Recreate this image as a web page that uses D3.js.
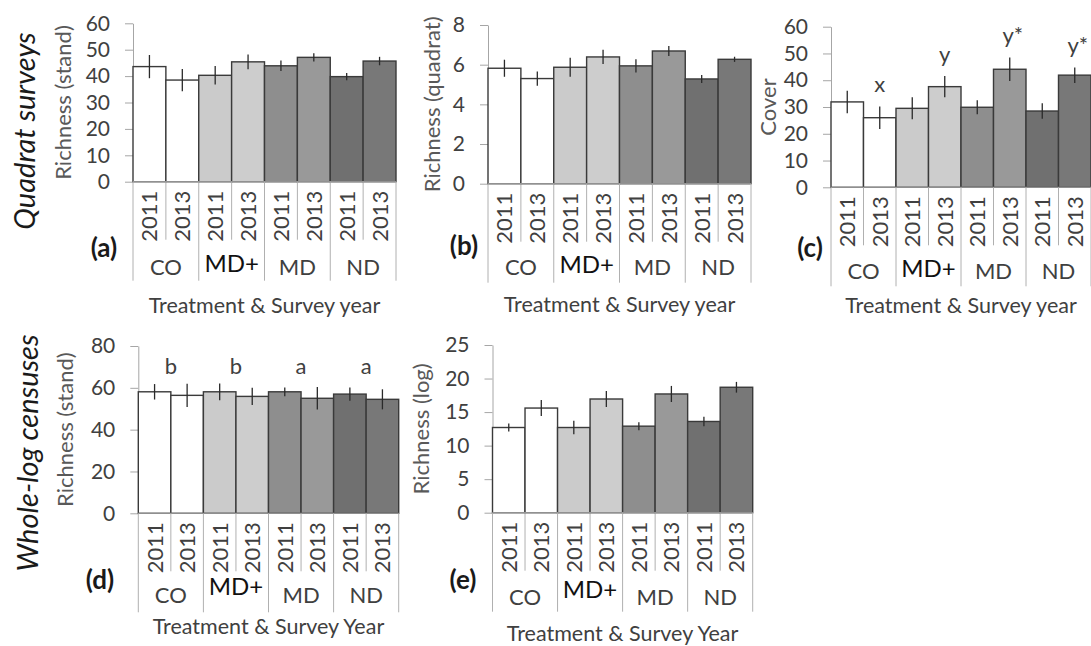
<!DOCTYPE html>
<html>
<head>
<meta charset="utf-8">
<script src="https://cdn.jsdelivr.net/npm/d3@7"></script>
<style>
  body { margin: 0; background: #fff; }
  svg { display: block; font-family: Lato, "Open Sans", sans-serif; }
</style>
</head>
<body>
<script>
const groups = ["CO", "MD+", "MD", "ND"]
const years = ["2011", "2013"]
const bars = groups.flatMap(g => years.map(y => g + "_" + y))

// quadrat surveys
const richStandQ = [43.6, 38.5, 40.3, 45.4, 43.9, 47.1, 39.8, 45.7]
const richStandQErr = [4.4, 4.2, 3.5, 2.8, 2.0, 1.6, 1.4, 1.6]
const richQuadrat = [5.82, 5.30, 5.87, 6.39, 5.94, 6.69, 5.28, 6.27]
const richQuadratErr = [0.43, 0.36, 0.48, 0.36, 0.33, 0.25, 0.20, 0.13]
const cover = [31.9, 26.0, 29.5, 37.6, 29.9, 44.1, 28.5, 41.9]
const coverErr = [4.2, 4.2, 4.1, 4.0, 2.6, 4.4, 2.9, 2.9]
const coverLetters = ["", "x", "", "y", "", "y*", "", "y*"]

// whole-log censuses
const richStandW = [58.1, 56.4, 58.1, 55.9, 58.1, 55.0, 57.0, 54.5]
const richStandWErr = [3.7, 5.6, 4.0, 4.1, 2.1, 5.4, 3.2, 4.8]
const wholeLetters = ["b", "b", "a", "a"]
const richLog = [12.7, 15.6, 12.7, 16.95, 12.9, 17.7, 13.6, 18.7]
const richLogErr = [0.6, 1.2, 1.0, 1.2, 0.6, 1.2, 0.7, 0.8]

const fills = ["#ffffff", "#ffffff", "#cbcbcb", "#cdcdcd", "#8e8e8e", "#999999", "#707070", "#787878"]

const svg = d3.select("body").append("svg")
  .attr("width", 1091)
  .attr("height", 646)

const panels = [
  {id: "a", vals: richStandQ, err: richStandQErr, max: 60, step: 10, l: 133, r: 396, t: 23.3, b: 181.7,
   ylab: "Richness (stand)", ylx: 63, title: "Treatment & Survey year", ty: 124, gy: 86, mdp: 4, lab: [104, 248]},
  {id: "b", vals: richQuadrat, err: richQuadratErr, max: 8, step: 2, l: 488, r: 751, t: 25, b: 183.7,
   ylab: "Richness (quadrat)", ylx: 432, title: "Treatment & Survey year", ty: 121, gy: 84, mdp: 3, lab: [464, 246]},
  {id: "c", vals: cover, err: coverErr, max: 60, step: 10, l: 831, r: 1091, t: 26.7, b: 187.3,
   ylab: "Cover", ylx: 768, title: "Treatment & Survey year", ty: 118, gy: 84, mdp: 3, lab: [810, 248],
   letters: coverLetters},
  {id: "d", vals: richStandW, err: richStandWErr, max: 80, step: 20, l: 138.3, r: 398.7, t: 346, b: 513.3,
   ylab: "Richness (stand)", ylx: 65, title: "Treatment & Survey Year", ty: 113, gy: 82, mdp: 9, lab: [100, 580],
   groupLetters: wholeLetters},
  {id: "e", vals: richLog, err: richLogErr, max: 25, step: 5, l: 492.5, r: 752.7, t: 345, b: 512.7,
   ylab: "Richness (log)", ylx: 421, title: "Treatment & Survey Year", ty: 121, gy: 85, mdp: 8, lab: [463, 580]}
]

const drawPanel = p => {
  const g = svg.append("g").attr("id", "panel-" + p.id)

  const x = d3.scaleBand().domain(bars).range([p.l, p.r]).padding(0)
  const y = d3.scaleLinear().domain([0, p.max]).range([p.b, p.t])

  const yAxis = d3.axisLeft(y)
    .tickValues(d3.range(0, p.max + p.step / 2, p.step))
    .tickSize(8)
    .tickPadding(15)
    .tickSizeOuter(0)

  const ya = g.append("g")
    .attr("transform", `translate(${p.l}, 0)`)
    .call(yAxis)
  ya.select(".domain").attr("stroke", "#a6a6a6")
  ya.selectAll(".tick line").attr("stroke", "#a6a6a6")
  ya.selectAll(".tick text")
    .attr("font-size", 21)
    .attr("font-family", "Lato")
    .attr("fill", "#404040")

  // bars
  g.append("g")
    .selectAll("rect")
    .data(p.vals)
    .enter()
    .append("rect")
    .attr("x", (d, i) => x(bars[i]))
    .attr("y", d => y(d))
    .attr("width", x.bandwidth())
    .attr("height", d => y(0) - y(d))
    .attr("fill", (d, i) => fills[i])
    .attr("stroke", "#3a3a3a")
    .attr("stroke-width", 1.4)

  // error bars
  g.append("g")
    .selectAll("line")
    .data(p.vals)
    .enter()
    .append("line")
    .attr("x1", (d, i) => x(bars[i]) + x.bandwidth() / 2)
    .attr("x2", (d, i) => x(bars[i]) + x.bandwidth() / 2)
    .attr("y1", (d, i) => y(d + p.err[i]))
    .attr("y2", (d, i) => y(d - p.err[i]))
    .attr("stroke", "#2a2a2a")
    .attr("stroke-width", 1.3)

  // category axis
  g.append("line")
    .attr("x1", p.l).attr("x2", p.r)
    .attr("y1", p.b).attr("y2", p.b)
    .attr("stroke", "#a6a6a6")

  const seps = d3.range(bars.length + 1)
  g.append("g")
    .selectAll("line")
    .data(seps)
    .enter()
    .append("line")
    .attr("x1", i => i < bars.length ? x(bars[i]) : p.r)
    .attr("x2", i => i < bars.length ? x(bars[i]) : p.r)
    .attr("y1", p.b)
    .attr("y2", i => p.b + (i % 2 == 0 ? 99 : 58))
    .attr("stroke", "#b0b0b0")

  g.append("g")
    .selectAll("text")
    .data(bars)
    .enter()
    .append("text")
    .text(d => d.split("_")[1])
    .attr("transform", d => `translate(${x(d) + x.bandwidth() / 2 + 8}, ${p.b + 9}) rotate(-90)`)
    .attr("text-anchor", "end")
    .attr("font-size", 22)
    .attr("fill", "#404040")

  g.append("g")
    .selectAll("text")
    .data(groups)
    .enter()
    .append("text")
    .text(d => d)
    .attr("x", d => x(d + "_2013"))
    .attr("y", d => p.b + p.gy - (d == "MD+" ? p.mdp : 0))
    .attr("dy", "0.35em")
    .attr("text-anchor", "middle")
    .attr("font-size", d => d == "MD+" ? 24 : 22)
    .attr("fill", d => d == "MD+" ? "#111" : "#404040")

  g.append("text")
    .text(p.title)
    .attr("x", (p.l + p.r) / 2)
    .attr("y", p.b + p.ty)
    .attr("dy", "0.35em")
    .attr("text-anchor", "middle")
    .attr("font-size", 21.5)
    .attr("fill", "#404040")

  g.append("text")
    .text(p.ylab)
    .attr("transform", `translate(${p.ylx}, ${(p.t + p.b) / 2}) rotate(-90)`)
    .attr("dy", "0.35em")
    .attr("text-anchor", "middle")
    .attr("font-size", 22)
    .attr("fill", "#595959")

  g.append("text")
    .text(`(${p.id})`)
    .attr("x", p.lab[0])
    .attr("y", p.lab[1])
    .attr("dy", "0.35em")
    .attr("text-anchor", "middle")
    .attr("font-size", 26)
    .attr("font-weight", "bold")
    .attr("fill", "#1a1a1a")

  if (p.letters) {
    g.append("g")
      .selectAll("text")
      .data(p.letters)
      .enter()
      .append("text")
      .text(d => d)
      .attr("x", (d, i) => x(bars[i]) + x.bandwidth() / 2 + (d.length > 1 ? 3 : 0))
      .attr("y", (d, i) => y(p.vals[i] + p.err[i]) - 22)
      .attr("text-anchor", "middle")
      .attr("dy", "0.35em")
      .attr("font-size", 22)
      .attr("fill", "#404040")
  }

  if (p.groupLetters) {
    g.append("g")
      .selectAll("text")
      .data(p.groupLetters)
      .enter()
      .append("text")
      .text(d => d)
      .attr("x", (d, i) => x(groups[i] + "_2013"))
      .attr("y", y(70.5))
      .attr("text-anchor", "middle")
      .attr("dy", "0.35em")
      .attr("font-size", 22)
      .attr("fill", "#404040")
  }
}

panels.forEach(drawPanel)

// row labels
const rows = [["Quadrat surveys", 25, 131], ["Whole-log censuses", 28, 453]]
svg.selectAll(".row")
  .data(rows)
  .enter()
  .append("text")
  .attr("class", "row")
  .text(d => d[0])
  .attr("transform", d => `translate(${d[1]}, ${d[2]}) rotate(-90)`)
  .attr("dy", "0.35em")
  .attr("text-anchor", "middle")
  .attr("font-size", 29)
  .attr("font-style", "italic")
  .attr("fill", "#1a1a1a")
</script>
</body>
</html>
